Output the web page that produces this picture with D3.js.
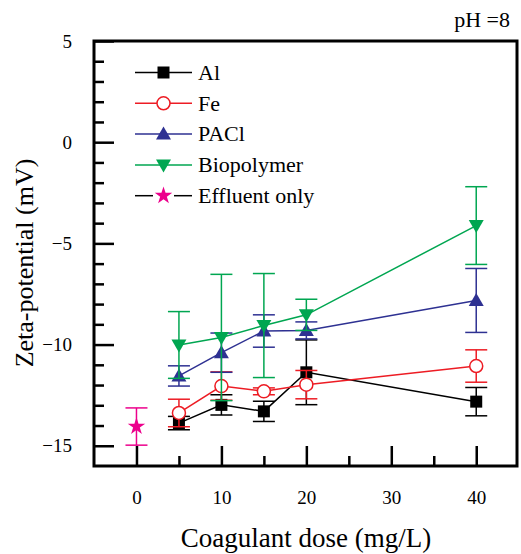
<!DOCTYPE html>
<html>
<head>
<meta charset="utf-8">
<script src="https://d3js.org/d3.v7.min.js"></script>
<style>
  body { margin: 0; background: #fff; }
</style>
</head>
<body>
<svg id="chart" width="521" height="554"></svg>
<script>
// data
const doses = [5, 10, 15, 20, 40];
const alMean = [-13.88, -12.98, -13.3, -11.37, -12.82];
const alErr = [0.33, 0.5, 0.5, 1.6, 0.7];
const feMean = [-13.38, -12.05, -12.31, -11.98, -11.06];
const feErr = [0.68, 0.7, 0.17, 0.7, 0.8];
const paclMean = [-11.55, -10.4, -9.33, -9.3, -7.82];
const paclErr = [0.5, 0.97, 0.8, 0.42, 1.58];
const bioMean = [-10.02, -9.65, -9.06, -8.53, -4.12];
const bioErr = [1.65, 3.12, 2.57, 0.77, 1.92];
const effluentDose = [0];
const effluentMean = [-14.05];
const effluentErr = [0.92];

const xMajor = [0, 10, 20, 30, 40];
const xMinor = [5, 15, 25, 35];
const yMajor = [-15, -10, -5, 0, 5];
const yMinor = [-14, -13, -12, -11, -9, -8, -7, -6, -4, -3, -2, -1, 1, 2, 3, 4];

const series = [
  {name: "Al", color: "#000000", shape: "square", mean: alMean, err: alErr},
  {name: "Fe", color: "#ed1c24", shape: "circle", mean: feMean, err: feErr},
  {name: "PACl", color: "#2e3192", shape: "up", mean: paclMean, err: paclErr},
  {name: "Biopolymer", color: "#00a651", shape: "down", mean: bioMean, err: bioErr}
];

const FONT = "Liberation Serif";
const L = 94, R = 517, T = 41, B = 466;
const svg = d3.select("#chart");

const x = d3.scaleLinear().domain([-5, 44.8]).range([L, R]);
const y = d3.scaleLinear().domain([-16, 5]).range([B, T]);

function markerPath(shape) {
  if (shape == "square") return "M-6,-6H6V6H-6Z";
  if (shape == "up") return "M0,-7.5L7.5,5.5H-7.5Z";
  if (shape == "down") return "M0,7.5L7.5,-5.5H-7.5Z";
  if (shape == "star") return d3.symbol().type(d3.symbolStar).size(95)();
  return null;
}

function drawMarker(g, shape, color, cx, cy) {
  if (shape == "circle") {
    g.append("circle").attr("cx", cx).attr("cy", cy).attr("r", 6.5)
      .attr("fill", "#fff").attr("stroke", color).attr("stroke-width", 1.5);
  } else {
    g.append("path").attr("d", markerPath(shape))
      .attr("transform", "translate(" + cx + "," + cy + ")")
      .attr("fill", color);
  }
}

function drawErr(g, color, cx, m, e) {
  const cap = 11;
  g.append("line").attr("x1", cx).attr("x2", cx).attr("y1", y(m + e)).attr("y2", y(m - e))
    .attr("stroke", color).attr("stroke-width", 1.5);
  [m + e, m - e].forEach(function(v) {
    g.append("line").attr("x1", cx - cap).attr("x2", cx + cap).attr("y1", y(v)).attr("y2", y(v))
      .attr("stroke", color).attr("stroke-width", 1.5);
  });
}

// axes (ticks inward)
svg.append("g").attr("transform", "translate(0," + B + ")")
  .call(d3.axisBottom(x).tickValues(xMajor).tickSize(-20).tickPadding(25).tickFormat(d3.format("d")));
svg.append("g").attr("transform", "translate(0," + B + ")")
  .call(d3.axisBottom(x).tickValues(xMinor).tickSize(-10).tickFormat(""));
svg.append("g").attr("transform", "translate(" + L + ",0)")
  .call(d3.axisLeft(y).tickValues(yMajor).tickSize(-20).tickPadding(22).tickFormat(d3.format("d")));
svg.append("g").attr("transform", "translate(" + L + ",0)")
  .call(d3.axisLeft(y).tickValues(yMinor).tickSize(-10).tickFormat(""));

svg.selectAll(".domain").remove();
svg.selectAll(".tick line").attr("stroke", "#000").attr("stroke-width", 2.5);
svg.selectAll(".tick text").attr("fill", "#000")
  .attr("font-family", FONT).attr("font-size", 19);

// frame
svg.append("rect").attr("x", L).attr("y", T).attr("width", R - L).attr("height", B - T)
  .attr("fill", "none").attr("stroke", "#000").attr("stroke-width", 3);

const plot = svg.append("g");

// effluent only
const eg = plot.append("g");
effluentDose.forEach(function(d, i) {
  drawErr(eg, "#ec008c", x(d), effluentMean[i], effluentErr[i]);
  drawMarker(eg, "star", "#ec008c", x(d), y(effluentMean[i]));
});

series.forEach(function(s) {
  const g = plot.append("g");
  const line = d3.line().x(function(d, i) { return x(doses[i]); }).y(function(d) { return y(d); });
  g.append("path").datum(s.mean).attr("d", line)
    .attr("fill", "none").attr("stroke", s.color).attr("stroke-width", 1.5);
  s.mean.forEach(function(m, i) {
    drawErr(g, s.color, x(doses[i]), m, s.err[i]);
  });
  s.mean.forEach(function(m, i) {
    drawMarker(g, s.shape, s.color, x(doses[i]), y(m));
  });
});

// legend
const legend = svg.append("g");
const legendItems = series.concat([{name: "Effluent only", color: "#ec008c", shape: "star"}]);
legendItems.forEach(function(s, i) {
  const ly = 72.5 + 30.8 * i;
  const g = legend.append("g");
  if (s.shape == "star") {
    g.append("line").attr("x1", 135).attr("x2", 153).attr("y1", ly).attr("y2", ly)
      .attr("stroke", "#000").attr("stroke-width", 1.5);
    g.append("line").attr("x1", 174).attr("x2", 192).attr("y1", ly).attr("y2", ly)
      .attr("stroke", "#000").attr("stroke-width", 1.5);
  } else {
    g.append("line").attr("x1", 135).attr("x2", 192).attr("y1", ly).attr("y2", ly)
      .attr("stroke", s.color).attr("stroke-width", 1.5);
  }
  drawMarker(g, s.shape, s.color, 163.5, ly);
  g.append("text").attr("x", 198).attr("y", ly).attr("dy", "0.33em")
    .attr("font-family", FONT).attr("font-size", 22).text(s.name);
});

// titles
svg.append("text").attr("x", 306).attr("y", 547).attr("text-anchor", "middle")
  .attr("font-family", FONT).attr("font-size", 27).text("Coagulant dose (mg/L)");
svg.append("text").attr("transform", "translate(33,263) rotate(-90)").attr("text-anchor", "middle")
  .attr("font-family", FONT).attr("font-size", 26).text("Zeta-potential (mV)");
svg.append("text").attr("x", 510).attr("y", 27).attr("text-anchor", "end")
  .attr("font-family", FONT).attr("font-size", 22).text("pH =8");
</script>
</body>
</html>
